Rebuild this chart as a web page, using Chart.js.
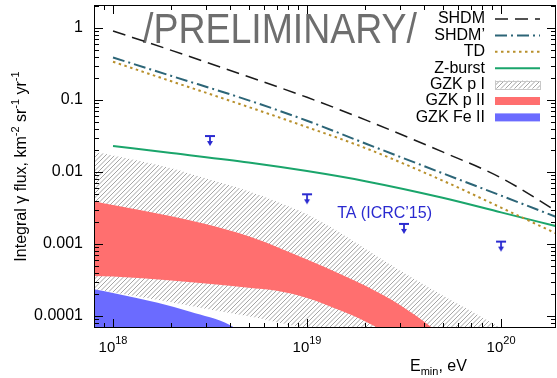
<!DOCTYPE html>
<html>
<head>
<meta charset="utf-8">
<script src="https://cdn.jsdelivr.net/npm/chart.js@4.4.0/dist/chart.umd.min.js"></script>
<style>
  html, body { margin: 0; padding: 0; background: #fff; }
  #wrap { width: 557px; height: 378px; position: relative; }
</style>
</head>
<body>
<div id="wrap"><canvas id="chart"></canvas></div>
<script>
// model curves, integral photon flux in km^-2 sr^-1 yr^-1 vs E_min in eV
const lineE = [1e18, 2e18, 5e18, 1e19, 2e19, 5e19, 1e20, 2e20];
const shdm = [0.91, 0.49, 0.21, 0.109, 0.053, 0.019, 0.0083, 0.0027];
const shdmPrime = [0.39, 0.216, 0.099, 0.0516, 0.0249, 0.0096, 0.0047, 0.00228];
const td = [0.34, 0.182, 0.080, 0.042, 0.0215, 0.0076, 0.0032, 0.00133];
const zBurst = [0.023, 0.0183, 0.01355, 0.0103, 0.00746, 0.00439, 0.00275, 0.00172];

// GZK bands (upper / lower edges)
const gzkPIE = [7.9e17, 1e18, 2e18, 3e18, 5e18, 7e18, 1e19, 1.5e19, 2e19, 3e19, 5e19, 7e19, 1e20, 1.3e20];
const gzkPIHigh = [0.019, 0.017, 0.0113, 0.00817, 0.00538, 0.00386, 0.00258, 0.0014, 0.00086, 0.00043, 0.000192, 0.000117, 6.8e-5, 4.5e-5];
const gzkPILow = [0.000237, 0.000214, 0.000155, 0.000126, 9.9e-5, 8.2e-5, 6.5e-5, 4e-5, 2.5e-5, 1.5e-5, 1e-5, 1e-5, 1e-5, 1e-5];

const gzkPIIE = [7.9e17, 1e18, 2e18, 3e18, 5e18, 7e18, 1e19, 1.5e19, 2e19, 3e19, 4.5e19, 6e19];
const gzkPIIHigh = [0.00395, 0.00348, 0.00242, 0.00189, 0.00128, 0.00091, 0.00061, 0.000378, 0.000262, 0.000143, 6.6e-5, 3.5e-5];
const gzkPIILow = [0.00036, 0.000352, 0.00031, 0.000282, 0.000246, 0.000224, 0.000178, 0.000118, 8.4e-5, 4.5e-5, 2e-5, 1e-5];

const gzkFeE = [7.9e17, 1e18, 1.7e18, 2.5e18, 4e18, 5e18];
const gzkFeHigh = [0.000237, 0.000209, 0.000152, 0.000114, 7.5e-5, 5e-5];

// TA upper limits (ICRC'15)
const taE = [3.16e18, 1e19, 3.16e19, 1e20];
const taLimit = [0.0316, 0.0049, 0.0019, 0.00108];

const xTicks = [1e18, 1e19, 1e20];
const xTickExp = ['18', '19', '20'];
const yTicks = [1e-4, 1e-3, 1e-2, 0.1, 1];
const yTickLabels = ['0.0001', '0.001', '0.01', '0.1', '1'];

const legendLabels = ['SHDM', 'SHDM\u2019', 'TD', 'Z-burst', 'GZK p I', 'GZK p II', 'GZK Fe II'];

const FONT = '"Liberation Sans", Arial, sans-serif';
const colors = {
    shdm: '#1a1a1a', shdmPrime: '#2c6577', td: '#b8902c', zBurst: '#1aa56b',
    red: '#ff6f6f', blue: '#6b6bff', ta: '#2a2ad0', hatch: '#9a9a9a'
};
const dashes = { shdm: [13, 7], shdmPrime: [12, 4, 2, 4], td: [2.5, 3.5] };

function makeHatch() {
    const c = document.createElement('canvas');
    c.width = 9; c.height = 9;
    const g = c.getContext('2d');
    g.strokeStyle = colors.hatch;
    g.lineWidth = 0.9;
    g.beginPath();
    for (let k = 0; k <= 18; k += 4.5) {
        g.moveTo(k + 1, -1); g.lineTo(k - 10, 10);
    }
    g.stroke();
    return g.createPattern(c, 'repeat');
}

function makeArrow() {
    const c = document.createElement('canvas');
    c.width = 12; c.height = 26;
    const g = c.getContext('2d');
    g.strokeStyle = g.fillStyle = colors.ta;
    g.lineWidth = 1.8;
    g.beginPath();
    g.moveTo(1, 13); g.lineTo(11, 13);
    g.moveTo(6, 13); g.lineTo(6, 19);
    g.stroke();
    g.beginPath();
    g.moveTo(3, 18); g.lineTo(9, 18); g.lineTo(6, 23); g.closePath();
    g.fill();
    return c;
}

const hatch = makeHatch();
const arrow = makeArrow();
const pts = (xs, ys) => xs.map((x, i) => ({ x, y: ys[i] }));
const isPow10 = (v) => Math.abs(Math.log10(v) - Math.round(Math.log10(v))) < 1e-6;

const band = (label, data, fill, bg) => ({
    label, data, fill, backgroundColor: bg,
    borderColor: 'rgba(0,0,0,0)', borderWidth: 0, pointRadius: 0,
    cubicInterpolationMode: 'monotone'
});
const curve = (label, data, color, width, dash) => ({
    label, data, borderColor: color, borderWidth: width, borderDash: dash || [],
    pointRadius: 0, fill: false, cubicInterpolationMode: 'monotone'
});

// axes frame, inward ticks, tick labels with exponents, titles, legend
const decorations = {
    id: 'decorations',
    beforeDatasetsDraw(chart) {
        const ctx = chart.ctx;
        ctx.save();
        ctx.font = '42px ' + FONT;
        const w = ctx.measureText('/PRELIMINARY/').width;
        ctx.translate(143, 43);
        ctx.scale(274 / w, 1);
        ctx.fillStyle = '#6e6e6e';
        ctx.textBaseline = 'alphabetic';
        ctx.fillText('/PRELIMINARY/', 0, 0);
        ctx.restore();
    },
    afterDatasetsDraw(chart) {
        const { ctx, chartArea: a, scales: { x, y } } = chart;
        ctx.save();
        ctx.strokeStyle = '#000';
        ctx.lineWidth = 1;
        ctx.beginPath();
        for (let e = -6; e <= 21; e++) {
            for (let m = 1; m <= 9; m++) {
                const v = m * Math.pow(10, e);
                const len = m === 1 ? 9 : 5;
                if (v >= x.min && v <= x.max) {
                    const p = Math.round(x.getPixelForValue(v)) + 0.5;
                    ctx.moveTo(p, a.bottom); ctx.lineTo(p, a.bottom - len);
                    ctx.moveTo(p, a.top); ctx.lineTo(p, a.top + len);
                }
                if (v >= y.min && v <= y.max) {
                    const p = Math.round(y.getPixelForValue(v)) + 0.5;
                    ctx.moveTo(a.left, p); ctx.lineTo(a.left + len, p);
                    ctx.moveTo(a.right, p); ctx.lineTo(a.right - len, p);
                }
            }
        }
        ctx.stroke();
        ctx.strokeRect(a.left + 0.5, a.top + 0.5, a.right - a.left - 1, a.bottom - a.top - 1);

        // TA label
        ctx.fillStyle = colors.ta;
        ctx.font = '16px ' + FONT;
        ctx.textAlign = 'left';
        ctx.textBaseline = 'alphabetic';
        ctx.fillText('TA (ICRC\u201915)', x.getPixelForValue(1.43e19), y.getPixelForValue(0.0023));

        // legend
        ctx.textAlign = 'right';
        ctx.textBaseline = 'middle';
        ctx.fillStyle = '#000';
        const x0 = 495, x1 = 540;
        legendLabels.forEach((lab, i) => {
            const ry = 19 + 16.4 * i;
            ctx.fillText(lab, 485, ry);
            ctx.save();
            if (i < 4) {
                const st = [
                    [colors.shdm, 1.5, dashes.shdm],
                    [colors.shdmPrime, 2, dashes.shdmPrime],
                    [colors.td, 2, dashes.td],
                    [colors.zBurst, 2, []]
                ][i];
                ctx.strokeStyle = st[0]; ctx.lineWidth = st[1]; ctx.setLineDash(st[2]);
                ctx.beginPath(); ctx.moveTo(x0, ry); ctx.lineTo(x1, ry); ctx.stroke();
            } else if (i === 4) {
                ctx.fillStyle = hatch;
                ctx.fillRect(x0, ry - 4, x1 - x0, 8);
                ctx.strokeStyle = '#c8c8c8';
                ctx.strokeRect(x0 + 0.5, Math.round(ry - 4) + 0.5, x1 - x0, 8);
            } else {
                ctx.fillStyle = i === 5 ? colors.red : colors.blue;
                ctx.fillRect(x0, ry - 4, x1 - x0, 8);
            }
            ctx.restore();
        });
        ctx.restore();
    },
    afterDraw(chart) {
        const { ctx, chartArea: a, scales: { x } } = chart;
        ctx.save();
        ctx.fillStyle = '#000';
        ctx.textAlign = 'left';
        ctx.textBaseline = 'alphabetic';
        // x tick labels 10^n
        xTicks.forEach((v, i) => {
            const p = x.getPixelForValue(v);
            ctx.font = '15px ' + FONT;
            const wb = ctx.measureText('10').width;
            ctx.font = '11px ' + FONT;
            const we = ctx.measureText(xTickExp[i]).width;
            const left = p - (wb + we) / 2;
            ctx.font = '15px ' + FONT;
            ctx.fillText('10', left, 352);
            ctx.font = '11px ' + FONT;
            ctx.fillText(xTickExp[i], left + wb, 344);
        });
        // x title E_min, eV
        ctx.font = '16px ' + FONT;
        ctx.fillText('E', 410, 371);
        let cx = 410 + ctx.measureText('E').width;
        ctx.font = '11px ' + FONT;
        ctx.fillText('min', cx, 375);
        cx += ctx.measureText('min').width;
        ctx.font = '16px ' + FONT;
        ctx.fillText(', eV', cx, 371);

        // y title
        const parts = [
            ['Integral \u03b3 flux, km', 16, 0], ['-2', 11, -7],
            [' sr', 16, 0], ['-1', 11, -7],
            [' yr', 16, 0], ['-1', 11, -7]
        ];
        let total = 0;
        parts.forEach(p => { ctx.font = p[1] + 'px ' + FONT; total += ctx.measureText(p[0]).width; });
        ctx.translate(26, (a.top + a.bottom) / 2);
        ctx.rotate(-Math.PI / 2);
        let px = -total / 2;
        parts.forEach(p => {
            ctx.font = p[1] + 'px ' + FONT;
            ctx.fillText(p[0], px, p[2]);
            px += ctx.measureText(p[0]).width;
        });
        ctx.restore();
    }
};

new Chart(document.getElementById('chart'), {
    type: 'line',
    data: {
        datasets: [
            { label: 'TA (ICRC\u201915)', data: pts(taE, taLimit), showLine: false,
              pointStyle: arrow, pointRadius: 6, borderColor: colors.ta, backgroundColor: colors.ta },
            curve('SHDM', pts(lineE, shdm), colors.shdm, 1.5, dashes.shdm),
            curve('SHDM\u2019', pts(lineE, shdmPrime), colors.shdmPrime, 2, dashes.shdmPrime),
            curve('TD', pts(lineE, td), colors.td, 2, dashes.td),
            curve('Z-burst', pts(lineE, zBurst), colors.zBurst, 2),
            band('GZK Fe II', pts(gzkFeE, gzkFeHigh), 'start', colors.blue),
            band('GZK p II', pts(gzkPIIE, gzkPIIHigh), '+1', colors.red),
            band('GZK p II low', pts(gzkPIIE, gzkPIILow), false, 'rgba(0,0,0,0)'),
            band('GZK p I', pts(gzkPIE, gzkPIHigh), '+1', hatch),
            band('GZK p I low', pts(gzkPIE, gzkPILow), false, 'rgba(0,0,0,0)')
        ]
    },
    options: {
        responsive: true,
        maintainAspectRatio: false,
        animation: false,
        events: [],
        layout: { autoPadding: false, padding: { top: 5, right: 1, left: 0, bottom: 0 } },
        plugins: { legend: { display: false }, tooltip: { enabled: false } },
        scales: {
            x: {
                type: 'logarithmic', min: 7.98e17, max: 1.92e20,
                grid: { display: false, drawTicks: false }, border: { display: false },
                ticks: { display: false },
                afterFit(s) { s.height = 50; s.paddingLeft = 0; s.paddingRight = 0; }
            },
            y: {
                type: 'logarithmic', min: 6.8e-5, max: 2.09,
                grid: { display: false, drawTicks: false }, border: { display: false },
                ticks: {
                    autoSkip: false, padding: 11, color: '#000',
                    font: { family: FONT, size: 16 },
                    callback(v) {
                        if (!isPow10(v)) return '';
                        const i = yTicks.findIndex(t => Math.abs(t - v) / t < 1e-6);
                        return i >= 0 ? yTickLabels[i] : '';
                    }
                },
                afterFit(s) { s.width = 94; s.paddingTop = 0; s.paddingBottom = 0; }
            }
        }
    },
    plugins: [decorations]
});
</script>
</body>
</html>
